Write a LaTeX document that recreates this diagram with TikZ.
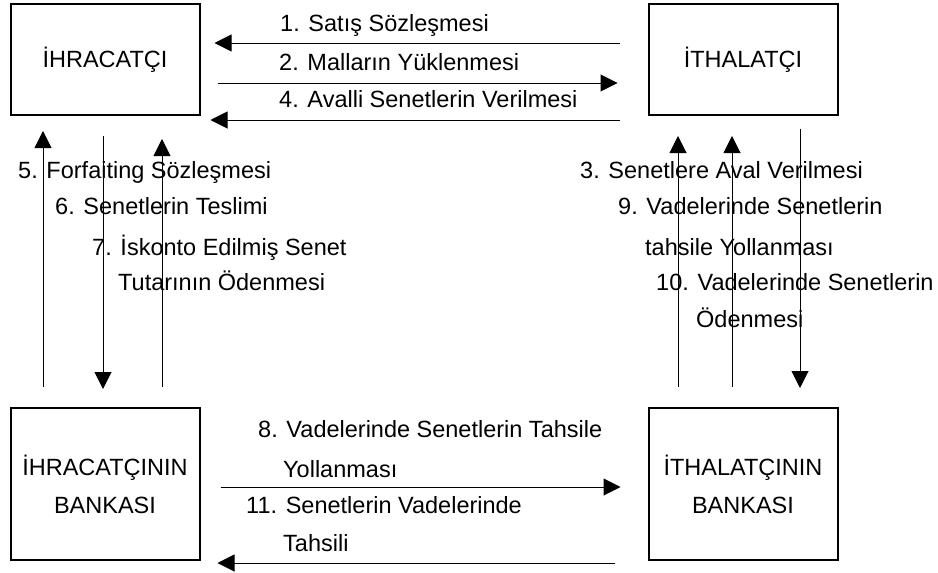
\documentclass[tikz,border=0pt]{standalone}
\usepackage{fontspec}
\setmainfont{Liberation Sans}
\usetikzlibrary{arrows.meta}
\tikzset{
  party/.style={draw=black, line width=2pt, align=center, minimum width=189pt, inner sep=0pt, font=\fontsize{23.5}{38}\selectfont},
  steplabel/.style={anchor=base west, inner sep=0pt, font=\fontsize{23.5}{28}\selectfont},
  arrow/.style={-{Triangle[length=17pt,width=17pt]}, line width=1pt}
}

\begin{document}
\begin{tikzpicture}[x=1pt,y=-1pt]
\useasboundingbox (0,0) rectangle (938,573);
\node[party, minimum height=111pt] (ihr) at (105,59.5) {İHRACATÇI};
\node[party, minimum height=111pt] (ith) at (743,59.5) {İTHALATÇI};
\node[party, minimum height=152pt] (ihrbank) at (105,484) {İHRACATÇININ\\BANKASI};
\node[party, minimum height=152pt] (ithbank) at (743,484) {İTHALATÇININ\\BANKASI};
% between the two traders
\draw[arrow, shorten <=28pt, shorten >=14pt] ([yshift=16.5pt]ith.west) -- ([yshift=16.5pt]ihr.east);
\draw[arrow, shorten <=17pt, shorten >=30pt] ([yshift=-23.5pt]ihr.east) -- ([yshift=-23.5pt]ith.west);
\draw[arrow, shorten <=28pt, shorten >=10pt] ([yshift=-60.5pt]ith.west) -- ([yshift=-60.5pt]ihr.east);
\node[steplabel] (l1) at (280,31) {1. Satış Sözleşmesi};
\node[steplabel] (l2) at (279,70) {2. Malların Yüklenmesi};
\node[steplabel] (l4) at (279,107) {4. Avalli Senetlerin Verilmesi};
% exporter side
\draw[arrow, shorten <=20pt, shorten >=15pt] ([xshift=-62pt]ihrbank.north) -- ([xshift=-62pt]ihr.south);
\draw[arrow, shorten <=20pt, shorten >=18pt] ([xshift=-2pt]ihr.south) -- ([xshift=-2pt]ihrbank.north);
\draw[arrow, shorten <=20pt, shorten >=23pt] ([xshift=57pt]ihrbank.north) -- ([xshift=57pt]ihr.south);
\node[steplabel] (l5) at (18,178) {5. Forfaiting Sözleşmesi};
\node[steplabel] (l6) at (55,214) {6. Senetlerin Teslimi};
\node[steplabel] (l7) at (92,255) {7. İskonto Edilmiş Senet};
\node[steplabel] (l7b) at (118,290) {Tutarının Ödenmesi};
% importer side
\draw[arrow, shorten <=20pt, shorten >=20pt] ([xshift=-65pt]ithbank.north) -- ([xshift=-65pt]ith.south);
\draw[arrow, shorten <=20pt, shorten >=20pt] ([xshift=-11pt]ithbank.north) -- ([xshift=-11pt]ith.south);
\draw[arrow, shorten <=13pt, shorten >=19pt] ([xshift=57pt]ith.south) -- ([xshift=57pt]ithbank.north);
\node[steplabel] (l3) at (580,178) {3. Senetlere Aval Verilmesi};
\node[steplabel] (l9) at (618,214) {9. Vadelerinde Senetlerin};
\node[steplabel] (l9b) at (645,255) {tahsile Yollanması};
\node[steplabel] (l10) at (656,290) {10. Vadelerinde Senetlerin};
\node[steplabel] (l10b) at (696,327) {Ödenmesi};
% between the banks
\draw[arrow, shorten <=20pt, shorten >=27pt] ([yshift=-3pt]ihrbank.east) -- ([yshift=-3pt]ithbank.west);
\draw[arrow, shorten <=33pt, shorten >=17pt] ([yshift=-79pt]ithbank.west) -- ([yshift=-79pt]ihrbank.east);
\node[steplabel] (l8) at (258,437) {8. Vadelerinde Senetlerin Tahsile};
\node[steplabel] (l8b) at (283,477) {Yollanması};
\node[steplabel] (l11) at (246,513) {11. Senetlerin Vadelerinde};
\node[steplabel] (l11b) at (283,551) {Tahsili};
\end{tikzpicture}
\end{document}
